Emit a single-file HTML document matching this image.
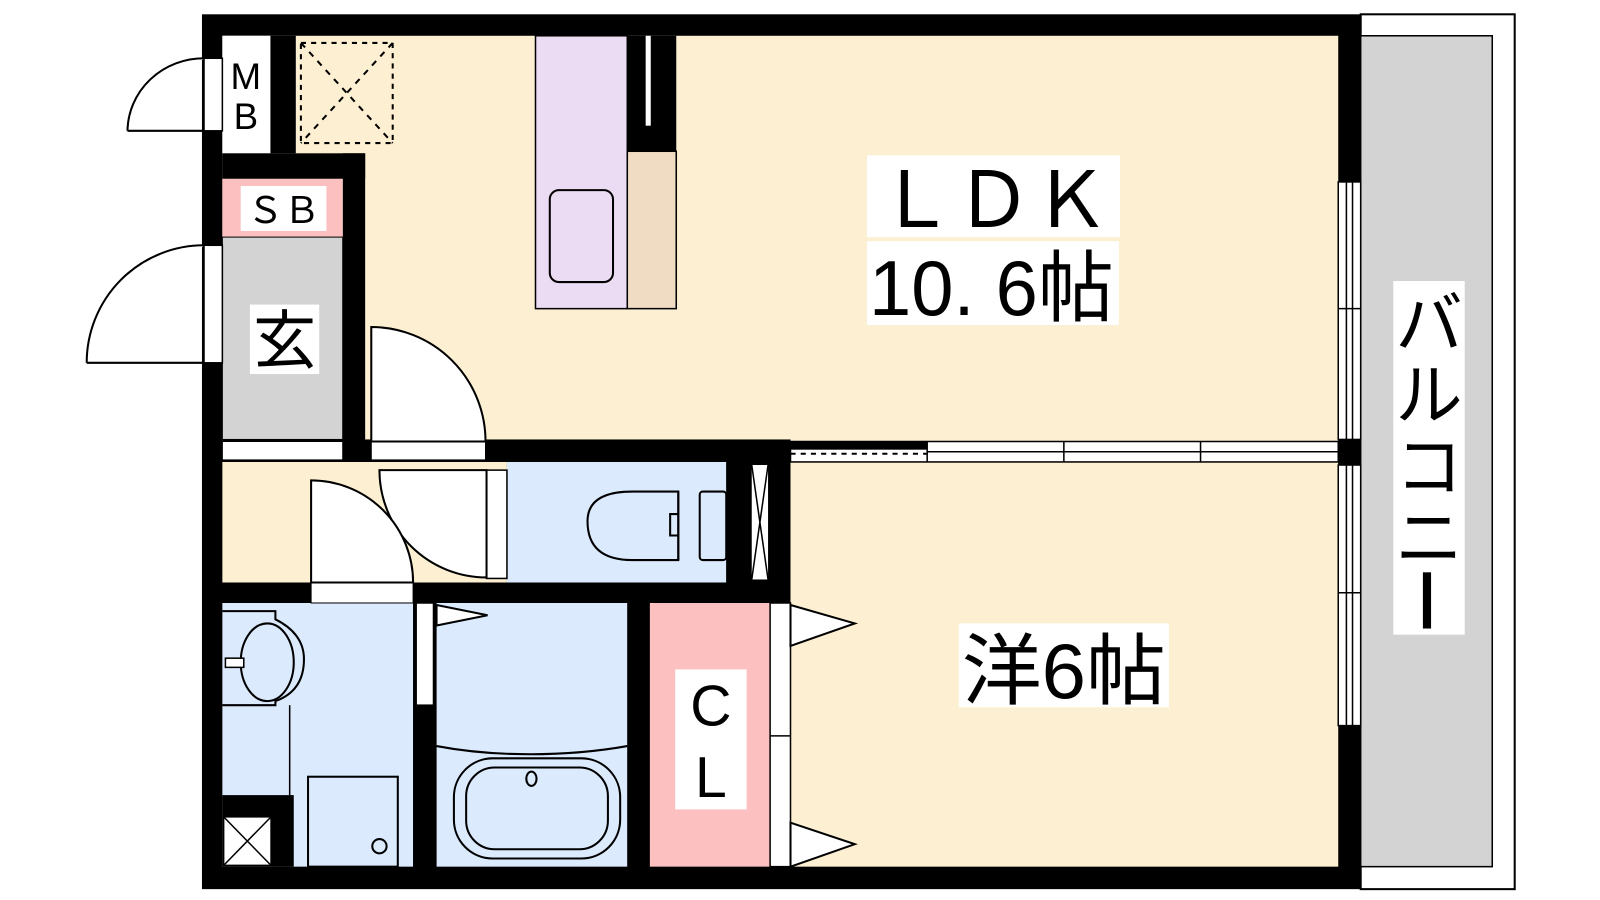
<!DOCTYPE html>
<html><head><meta charset="utf-8"><style>
html,body{margin:0;padding:0;background:#fff;}
svg{display:block;}
text{font-family:"Liberation Sans","Noto Sans CJK JP",sans-serif;}
</style></head><body>
<svg width="1600" height="900" viewBox="0 0 1600 900" xmlns="http://www.w3.org/2000/svg">
<g transform="scale(1.02,1.022)">
<!-- balcony -->
<rect x="1334" y="14" width="151" height="856" fill="#fff" stroke="#000" stroke-width="2"/>
<rect x="1334" y="35" width="129" height="813" fill="#d3d3d3" stroke="#000" stroke-width="1.5"/>
<!-- outer wall -->
<rect x="198" y="14" width="1136" height="856" fill="#000"/>
<!-- rooms -->
<rect x="218" y="35" width="1094" height="397" fill="#fdf0d2"/>
<rect x="775" y="452" width="537" height="396" fill="#fdf0d2"/>
<rect x="218" y="452" width="279" height="118" fill="#fdf0d2"/>
<rect x="497" y="452" width="215" height="118" fill="#dbeafd"/>
<rect x="218" y="590" width="187" height="258" fill="#dbeafd"/>
<rect x="428" y="590" width="187" height="258" fill="#dbeafd"/>
<rect x="637" y="590" width="118" height="258" fill="#fcc0c0"/>
<!-- MB & walls -->
<rect x="265" y="35" width="25" height="115" fill="#000"/>
<rect x="218" y="35" width="47" height="115" fill="#fff"/>
<rect x="218" y="150" width="140" height="25" fill="#000"/>
<rect x="336" y="150" width="22" height="300" fill="#000"/>
<rect x="218" y="175" width="118" height="57" fill="#fcc0c0"/>
<rect x="218" y="232" width="118" height="198" fill="#d3d3d3" stroke="#000" stroke-width="1"/>
<!-- horizontal wall 1 -->
<rect x="218" y="430" width="557" height="22" fill="#000"/>
<rect x="218" y="432" width="118" height="18" fill="#fff" stroke="#000" stroke-width="1"/>
<rect x="364" y="432" width="112" height="18" fill="#fff" stroke="#000" stroke-width="1"/>
<!-- sliding partition -->
<rect x="775" y="432" width="537" height="20" fill="#fff" stroke="#000" stroke-width="1.5"/>
<rect x="775" y="432" width="134" height="8" fill="#000"/>
<line x1="775" y1="444" x2="909" y2="444" stroke="#000" stroke-width="2" stroke-dasharray="5,5"/>
<line x1="909" y1="442" x2="1312" y2="442" stroke="#000" stroke-width="1.5"/>
<line x1="909" y1="432" x2="909" y2="452" stroke="#000" stroke-width="1.5"/>
<line x1="1043" y1="432" x2="1043" y2="452" stroke="#000" stroke-width="1.5"/>
<line x1="1177" y1="432" x2="1177" y2="452" stroke="#000" stroke-width="1.5"/>
<rect x="1312" y="430" width="22" height="24" fill="#000"/>
<!-- right windows -->
<rect x="1312" y="178" width="22" height="252" fill="#fff" stroke="#000" stroke-width="1.5"/>
<rect x="1312" y="455" width="22" height="255" fill="#fff" stroke="#000" stroke-width="1.5"/>
<line x1="1320" y1="178" x2="1320" y2="430" stroke="#000" stroke-width="1.5"/>
<line x1="1326" y1="178" x2="1326" y2="430" stroke="#000" stroke-width="1.5"/>
<line x1="1320" y1="455" x2="1320" y2="710" stroke="#000" stroke-width="1.5"/>
<line x1="1326" y1="455" x2="1326" y2="710" stroke="#000" stroke-width="1.5"/>
<line x1="1312" y1="302" x2="1334" y2="302" stroke="#000" stroke-width="1.5"/>
<line x1="1312" y1="580" x2="1334" y2="580" stroke="#000" stroke-width="1.5"/>
<!-- toilet area walls -->
<rect x="712" y="452" width="63" height="138" fill="#000"/>
<rect x="737" y="455" width="16" height="112" fill="#fff"/>
<path d="M737 455 L753 567 M753 455 L737 567" stroke="#000" stroke-width="1.5"/>
<rect x="218" y="570" width="557" height="20" fill="#000"/>
<rect x="305" y="570" width="100" height="20" fill="#fff" stroke="#000" stroke-width="1"/>
<rect x="477" y="460" width="20" height="106" fill="#fff" stroke="#000" stroke-width="1.5"/>
<!-- bath partition -->
<rect x="405" y="590" width="23" height="258" fill="#000"/>
<rect x="408" y="590" width="17" height="100" fill="#fff" stroke="#000" stroke-width="1.5"/>
<rect x="615" y="590" width="22" height="258" fill="#000"/>
<!-- CL doors -->
<rect x="755" y="590" width="20" height="258" fill="#fff" stroke="#000" stroke-width="1.5"/>
<line x1="755" y1="720" x2="775" y2="720" stroke="#000" stroke-width="1.5"/>
<path d="M775 592 L838 610 L775 632 Z" fill="#fff" stroke="#000" stroke-width="2"/>
<path d="M775 805 L838 826 L775 848 Z" fill="#fff" stroke="#000" stroke-width="2"/>
<path d="M428 592 L478 602 L428 612 Z" fill="#fff" stroke="#000" stroke-width="2"/>
<!-- bottom-left pipe -->
<rect x="218" y="778" width="70" height="70" fill="#000"/>
<rect x="220" y="800" width="45" height="46" fill="#fff"/>
<path d="M220 800 L265 846 M265 800 L220 846" stroke="#000" stroke-width="1.5"/>
<!-- exterior doors -->
<rect x="200" y="57" width="18" height="71" fill="#fff" stroke="#000" stroke-width="1.5"/>
<path d="M125 128 L200 128 M125 128 A75 72 0 0 1 200 57" fill="#fff" stroke="#000" stroke-width="2"/>
<rect x="200" y="240" width="18" height="115" fill="#fff" stroke="#000" stroke-width="1.5"/>
<path d="M85 355 L200 355 M85 355 A115 115 0 0 1 200 240" fill="#fff" stroke="#000" stroke-width="2"/>
<!-- interior door swings -->
<path d="M364 432 L364 320 A112 112 0 0 1 476 432 Z" fill="#fff" stroke="#000" stroke-width="2"/>
<path d="M477 460 L372 460 A105 105 0 0 0 477 565 Z" fill="#fff" stroke="#000" stroke-width="2"/>
<path d="M305 570 L305 470 A100 100 0 0 1 405 570 Z" fill="#fff" stroke="#000" stroke-width="2"/>
<!-- dashed box -->
<rect x="295" y="42" width="90" height="98" fill="none" stroke="#000" stroke-width="2" stroke-dasharray="5,5"/>
<path d="M295 42 L385 140 M385 42 L295 140" stroke="#000" stroke-width="2" stroke-dasharray="6,6"/>
<!-- kitchen -->
<rect x="525" y="35" width="90" height="267" fill="#ecdcf3" stroke="#000" stroke-width="1.5"/>
<rect x="539" y="186" width="62" height="90" rx="9" fill="none" stroke="#000" stroke-width="2"/>
<rect x="615" y="148" width="48" height="154" fill="#efdcc2" stroke="#000" stroke-width="1.5"/>
<rect x="615" y="35" width="48" height="113" fill="#000"/>
<rect x="633" y="35" width="5" height="88" fill="#fff"/>
<!-- toilet -->
<path d="M665 481 L620 481 Q576 481 576 510 Q576 548 620 548 L665 548 Z" fill="none" stroke="#000" stroke-width="2"/>
<path d="M665 481 L665 548 M665 503 L657 503 L657 524 L665 524" fill="none" stroke="#000" stroke-width="2"/>
<rect x="686" y="481" width="26" height="67" rx="3" fill="none" stroke="#000" stroke-width="2"/>
<!-- sink -->
<path d="M218 598 L270 598 L270 606 Q298 620 298 645 Q298 676 270 686 L270 690 L218 690" fill="none" stroke="#000" stroke-width="2"/>
<ellipse cx="262" cy="648" rx="26" ry="38" fill="none" stroke="#000" stroke-width="2"/>
<rect x="221" y="644" width="18" height="9" fill="#fff" stroke="#000" stroke-width="1.5"/>
<line x1="284" y1="690" x2="284" y2="778" stroke="#000" stroke-width="1.5"/>
<rect x="302" y="760" width="88" height="88" fill="none" stroke="#000" stroke-width="2"/>
<circle cx="372" cy="828" r="7" fill="none" stroke="#000" stroke-width="2"/>
<!-- bathtub -->
<path d="M428 730 Q470 738 520 738 Q570 738 615 730" fill="none" stroke="#000" stroke-width="2"/>
<rect x="445" y="742" width="163" height="98" rx="38" fill="none" stroke="#000" stroke-width="2"/>
<rect x="457" y="751" width="139" height="80" rx="28" fill="none" stroke="#000" stroke-width="2"/>
<ellipse cx="521" cy="762" rx="5" ry="7" fill="none" stroke="#000" stroke-width="2"/>
<!-- labels -->
<text x="241" y="87" font-size="36" text-anchor="middle">M</text>
<text x="241" y="126" font-size="36" text-anchor="middle">B</text>
<rect x="236" y="182" width="84" height="44" fill="#fff"/>
<text x="278" y="218" font-size="36" text-anchor="middle">ＳＢ</text>
<rect x="245" y="298" width="68" height="68" fill="#fff"/>
<text x="279" y="355" font-size="62" text-anchor="middle">玄</text>
<rect x="850" y="152" width="248" height="80" fill="#fff"/>
<text x="974" y="222" font-size="76" text-anchor="middle">ＬＤＫ</text>
<rect x="850" y="236" width="247" height="82" fill="#fff"/>
<text x="972" y="308" font-size="76" text-anchor="middle" textLength="240" lengthAdjust="spacingAndGlyphs">10. 6帖</text>
<rect x="940" y="610" width="206" height="82" fill="#fff"/>
<text x="1043" y="683" font-size="76" text-anchor="middle" textLength="200" lengthAdjust="spacingAndGlyphs">洋6帖</text>
<rect x="662" y="655" width="70" height="137" fill="#fff"/>
<text x="697" y="710" font-size="56" text-anchor="middle">C</text>
<text x="697" y="780" font-size="56" text-anchor="middle">L</text>
<rect x="1366" y="275" width="70" height="346" fill="#fff"/>
<text x="1401" y="340" font-size="66" text-anchor="middle">バ</text>
<text x="1401" y="410" font-size="66" text-anchor="middle">ル</text>
<text x="1401" y="480" font-size="66" text-anchor="middle">コ</text>
<text x="1401" y="550" font-size="66" text-anchor="middle">ニ</text>
<rect x="1395" y="560" width="8" height="55" fill="#000"/>
</g>
</svg>
</body></html>
